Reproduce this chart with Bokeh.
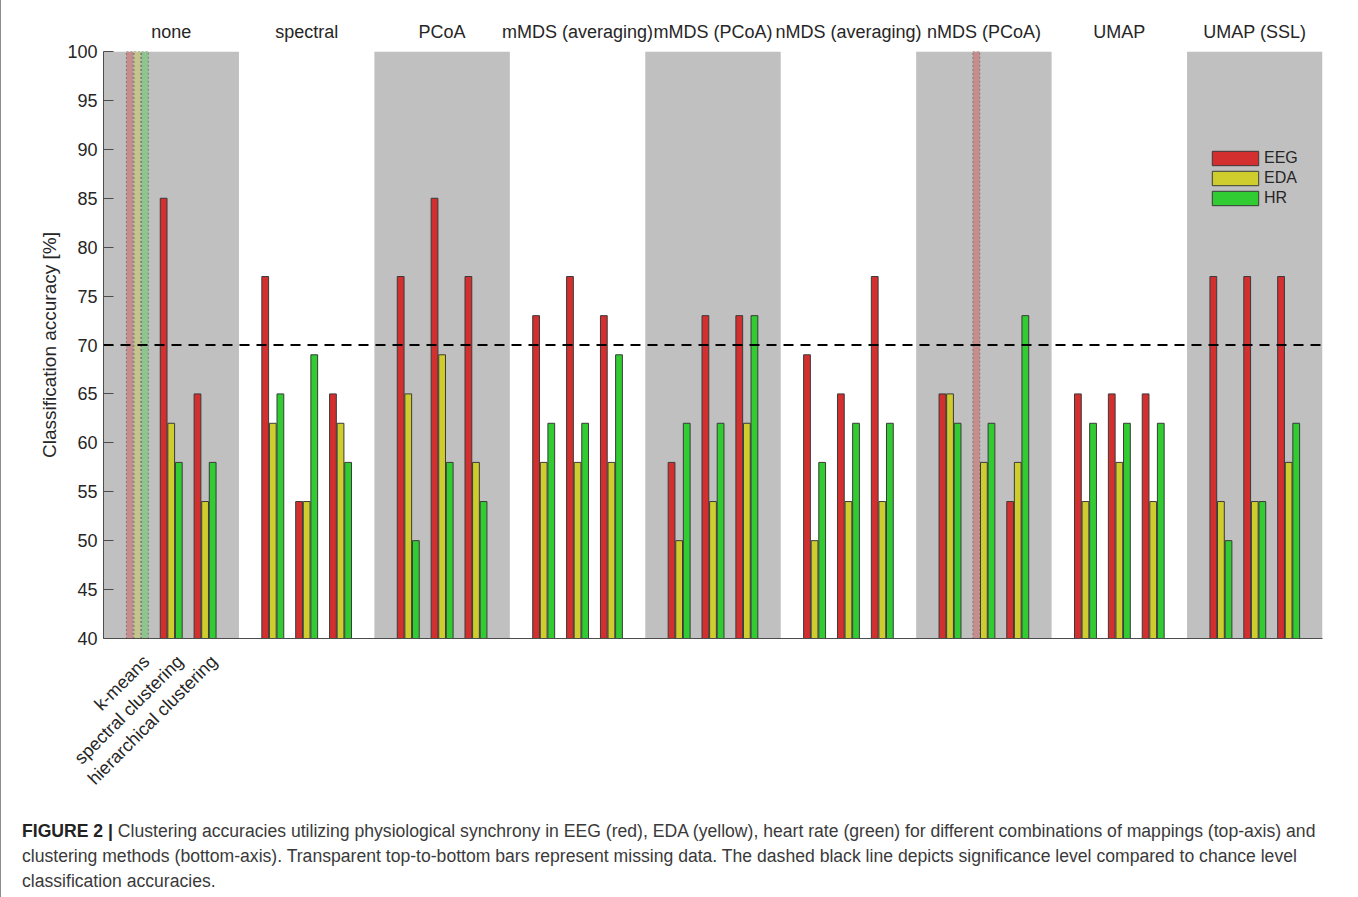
import math
import numpy as np
from bokeh.plotting import figure
from bokeh.models import (FixedTicker, LinearAxis, Range1d, Span, Legend, LegendItem, Div)
from bokeh.layouts import column
from bokeh.embed import file_html
from bokeh.resources import INLINE

# ---------------- data ----------------
mappings = ["none", "spectral", "PCoA", "mMDS (averaging)", "mMDS (PCoA)",
            "nMDS (averaging)", "nMDS (PCoA)", "UMAP", "UMAP (SSL)"]
methods = ["k-means", "spectral clustering", "hierarchical clustering"]
series = ["EEG", "EDA", "HR"]
nan = float("nan")
# rows: mappings, columns: methods (k-means, spectral, hierarchical); nan = missing data
eeg = [[nan, 85, 65], [77, 54, 65], [77, 85, 77], [73, 77, 73], [58, 73, 73],
       [69, 65, 77], [65, nan, 54], [65, 65, 65], [77, 77, 77]]
eda = [[nan, 62, 54], [62, 54, 62], [65, 69, 58], [58, 58, 58], [50, 54, 62],
       [50, 54, 54], [65, 58, 58], [54, 58, 54], [54, 54, 58]]
hr = [[nan, 58, 58], [65, 69, 58], [50, 58, 54], [62, 62, 69], [62, 62, 73],
      [58, 62, 62], [62, 62, 73], [62, 62, 62], [50, 54, 62]]
chance_level = 70
shaded_groups = [0, 2, 4, 6, 8]
y_ticks = [40, 45, 50, 55, 60, 65, 70, 75, 80, 85, 90, 95, 100]
y_min, y_max = 40, 100

# ---------------- style ----------------
colors = ["#D42F2F", "#CFCC2E", "#31CC31"]
FONT = "Liberation Sans"
TXT = "#262626"
method_offsets = [0.25, 0.5, 0.75]
label_shift = 0.066   # rotated labels hang slightly right of their bars
bar_step = 0.056
bar_w = 0.05

p = figure(width=1353, height=798, x_range=Range1d(0, len(mappings)),
           y_range=Range1d(y_min, y_max), output_backend="svg", toolbar_location=None,
           min_border_left=102, min_border_right=32, min_border_top=51, min_border_bottom=160,
           outline_line_color=None)
p.xgrid.visible = False
p.ygrid.visible = False

# shaded mapping bands
p.quad(left=shaded_groups, right=[g + 1 for g in shaded_groups], bottom=y_min, top=y_max,
       fill_color="#C0C0C0", line_color=None)

legend_items = []
for si, (name, vals, color) in enumerate(zip(series, [eeg, eda, hr], colors)):
    xs, tops, xmiss = [], [], []
    for g in range(len(mappings)):
        for m in range(len(methods)):
            x = g + method_offsets[m] + (si - 1) * bar_step
            v = vals[g][m]
            if np.isnan(v):
                xmiss.append(x)
            else:
                xs.append(x)
                tops.append(v)
    r = p.vbar(x=xs, top=tops, bottom=y_min, width=bar_w, fill_color=color,
               line_color="#3A3A3A", line_width=1)
    if xmiss:
        p.vbar(x=xmiss, top=y_max, bottom=y_min, width=bar_w, fill_color=color,
               fill_alpha=0.35, line_color="#6E6E6E", line_alpha=0.8,
               line_dash="2 2", line_width=1)
    legend_items.append(LegendItem(label=name, renderers=[r]))

p.add_layout(Span(location=chance_level, dimension="width", line_color="black",
                  line_width=2, line_dash="10 7"))

# y axis
p.yaxis.ticker = FixedTicker(ticks=y_ticks)
p.yaxis.major_tick_in = 10
p.yaxis.major_tick_out = 0
p.yaxis.minor_tick_line_color = None
p.yaxis.axis_line_color = "#4D4D4D"
p.yaxis.major_tick_line_color = "#4D4D4D"
p.yaxis.major_label_text_font = FONT
p.yaxis.major_label_text_font_size = "18px"
p.yaxis.major_label_text_color = TXT
p.yaxis.major_label_standoff = 6
p.yaxis.axis_label = "Classification accuracy [%]"
p.yaxis.axis_label_text_font = FONT
p.yaxis.axis_label_text_font_size = "19px"
p.yaxis.axis_label_text_font_style = "normal"
p.yaxis.axis_label_text_color = TXT
p.yaxis.axis_label_standoff = 4

# bottom axis: clustering methods under the first group (rotated 45 degrees)
label_pos = [m + label_shift for m in method_offsets]
p.xaxis.ticker = FixedTicker(ticks=label_pos)
p.xaxis.major_label_overrides = {t: lab for t, lab in zip(label_pos, methods)}
p.xaxis.major_label_orientation = math.pi / 4
p.xaxis.major_tick_line_color = None
p.xaxis.minor_tick_line_color = None
p.xaxis.axis_line_color = "#4D4D4D"
p.xaxis.major_label_text_font = FONT
p.xaxis.major_label_text_font_size = "18px"
p.xaxis.major_label_text_color = TXT
p.xaxis.major_label_standoff = 14

# top axis: mappings
centers = [g + 0.5 for g in range(len(mappings))]
top_axis = LinearAxis(ticker=FixedTicker(ticks=centers),
                      major_label_overrides={c: m for c, m in zip(centers, mappings)},
                      axis_line_color=None, major_tick_line_color=None,
                      minor_tick_line_color=None, major_label_standoff=4,
                      major_label_text_font=FONT, major_label_text_font_size="18px",
                      major_label_text_color=TXT)
p.add_layout(top_axis, "above")

legend = Legend(items=legend_items, location=(1103, 430), orientation="vertical",
                glyph_width=58, glyph_height=18, label_height=20, spacing=0, padding=0,
                margin=0, label_standoff=0, background_fill_alpha=0,
                border_line_color=None, label_text_font=FONT,
                label_text_font_size="16px", label_text_color=TXT)
p.add_layout(legend)

caption_html = (
    '<div style="padding:16px 0 0 16px; font-family:\'Liberation Sans\', Arial, sans-serif; '
    'font-size:17.6px; line-height:25px; color:#3A3A3A; white-space:nowrap;">'
    '<b style="color:#222">FIGURE 2 |</b> Clustering accuracies utilizing physiological synchrony '
    'in EEG (red), EDA (yellow), heart rate (green) for different combinations of mappings '
    '(top-axis) and<br>clustering methods (bottom-axis). Transparent top-to-bottom bars represent '
    'missing data. The dashed black line depicts significance level compared to chance level<br>'
    'classification accuracies.</div>'
)
caption = Div(text=caption_html, width=1353, height=91, styles={"overflow": "hidden"})

layout = column(p, caption, styles={"border-left": "1px solid #8C8C8C",
                                    "border-right": "1px solid #8C8C8C"})

open("out.html", "w").write(file_html(layout, INLINE))
